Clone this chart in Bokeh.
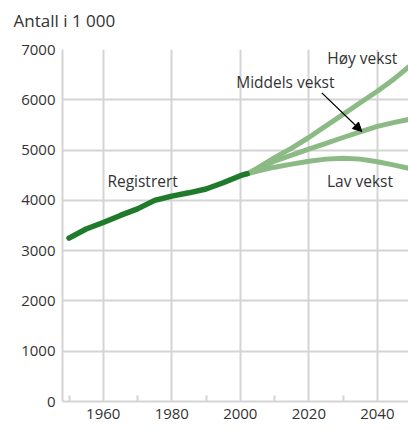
from bokeh.plotting import figure
from bokeh.models import Range1d, FixedTicker, Label, Arrow, NormalHead, Title
from bokeh.embed import file_html
from bokeh.resources import INLINE

# Registered population (thousands)
reg_years = [1950, 1955, 1960, 1965, 1970, 1975, 1980, 1985, 1990, 1995, 2000, 2002]
reg_values = [3250, 3430, 3560, 3700, 3830, 4000, 4085, 4150, 4225, 4350, 4490, 4530]

# Projections (thousands)
proj_years = [2002, 2005, 2010, 2015, 2020, 2025, 2030, 2035, 2040, 2045, 2050]
high_values = [4530, 4640, 4850, 5040, 5250, 5480, 5710, 5940, 6170, 6420, 6700]
medium_values = [4530, 4610, 4780, 4900, 5020, 5135, 5250, 5360, 5470, 5550, 5620]
low_values = [4530, 4580, 4660, 4720, 4776, 4820, 4836, 4820, 4768, 4700, 4625]

x_ticks = [1960, 1980, 2000, 2020, 2040]
x_minor = [1950, 1970, 1990, 2010, 2030]
y_ticks = [0, 1000, 2000, 3000, 4000, 5000, 6000, 7000]

FONT = "Open Sans"
TXT = "#333333"
GRID = "#d4d4d4"
DARK = "#1f7a2b"
LIGHT = "#8cba84"

p = figure(width=408, height=430, output_backend="svg", toolbar_location=None,
           x_range=Range1d(1948.1, 2049.1), y_range=Range1d(0, 7000),
           min_border_left=62, min_border_right=0, min_border_top=49, min_border_bottom=29)
p.title = None
p.outline_line_color = None
p.background_fill_color = "white"
p.border_fill_color = "white"

# blank spacer title next to the frame, then the unit title above it
spacer = Title(text=" ", text_font_size="4px", standoff=11, text_color="white")
p.add_layout(spacer, "above")
ttl = Title(text="Antall i 1 000", align="left", offset=-49, standoff=0,
            text_font=FONT, text_font_size="17px", text_font_style="normal", text_color=TXT)
p.add_layout(ttl, "above")

# axes
for ax in (p.xaxis[0], p.yaxis[0]):
    ax.axis_line_color = GRID
    ax.axis_line_width = 2
    ax.major_tick_out = 0
    ax.major_tick_in = 0
    ax.major_label_text_font = FONT
    ax.major_label_text_font_size = "15px"
    ax.major_label_text_color = TXT
    ax.major_label_standoff = 7

p.xaxis[0].ticker = FixedTicker(ticks=x_ticks, minor_ticks=x_minor)
p.xaxis[0].minor_tick_in = 6
p.xaxis[0].minor_tick_out = 0
p.xaxis[0].minor_tick_line_color = GRID
p.xaxis[0].minor_tick_line_width = 2
p.yaxis[0].ticker = FixedTicker(ticks=y_ticks)
p.yaxis[0].minor_tick_line_color = None

p.xgrid[0].ticker = FixedTicker(ticks=x_ticks)
p.ygrid[0].ticker = FixedTicker(ticks=y_ticks)
for g in (p.xgrid[0], p.ygrid[0]):
    g.grid_line_color = GRID
    g.grid_line_width = 2

# lines
p.line(proj_years, low_values, line_color=LIGHT, line_width=5, line_cap="round", line_join="round")
p.line(proj_years, medium_values, line_color=LIGHT, line_width=5, line_cap="round", line_join="round")
p.line(proj_years, high_values, line_color=LIGHT, line_width=5, line_cap="round", line_join="round")
p.line(reg_years, reg_values, line_color=DARK, line_width=5.5, line_cap="round", line_join="round")

def lab(x, y, t):
    p.add_layout(Label(x=x, y=y, text=t, text_font=FONT, text_font_size="15.5px",
                       text_color=TXT, text_baseline="middle"))

lab(2025.4, 6840, "Høy vekst")
lab(1998.8, 6363, "Middels vekst")
lab(2025.3, 4394, "Lav vekst")
lab(1961.2, 4394, "Registrert")

p.add_layout(Arrow(end=NormalHead(size=9, fill_color="black", line_color="black"),
                   x_start=2023.8, y_start=6137, x_end=2035.5, y_end=5368,
                   line_color="black", line_width=1.3))

open("out.html", "w").write(file_html(p, INLINE))
